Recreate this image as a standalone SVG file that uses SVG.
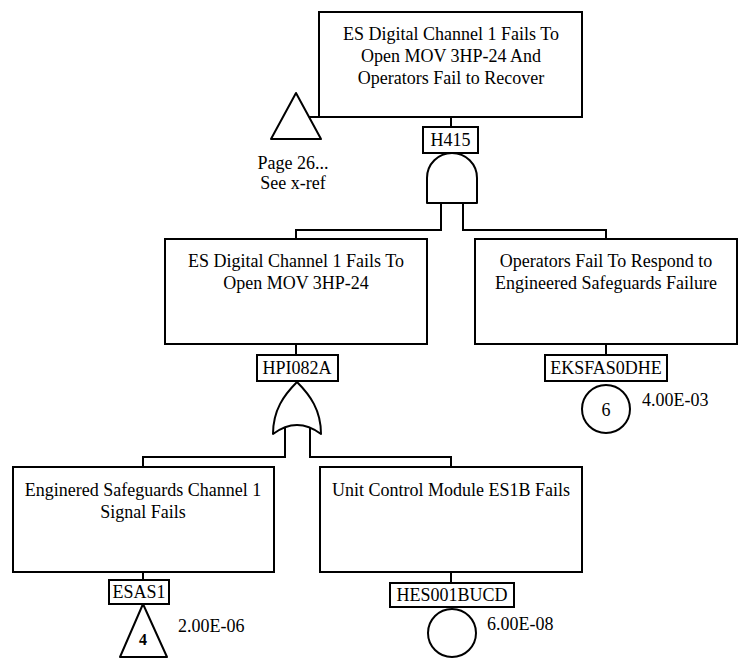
<svg xmlns="http://www.w3.org/2000/svg" width="738" height="663" viewBox="0 0 738 663">
  <style>
    .box { fill: #fff; stroke: #000; stroke-width: 2; }
    .gate { fill: #fff; stroke: #000; stroke-width: 2; stroke-linejoin: round; }
    .wire { fill: none; stroke: #000; stroke-width: 2; }
    text { font-family: "Liberation Serif", "Times New Roman", serif; font-size: 18px; fill: #000; }
    .c { text-anchor: middle; }
    .num { font-weight: bold; font-size: 16px; }
  </style>
  <rect width="738" height="663" fill="#fff"/>

  <!-- connectors -->
  <g id="connectors">
    <line class="wire" x1="451" y1="117" x2="451" y2="127"/>
    <line class="wire" x1="309" y1="117" x2="319" y2="117"/>
    <path class="wire" d="M441,203 V230 H296 V239"/>
    <path class="wire" d="M463,203 V230 H606 V239"/>
    <line class="wire" x1="296" y1="344" x2="296" y2="355"/>
    <line class="wire" x1="606" y1="344" x2="606" y2="355"/>
    <path class="wire" d="M285,428 V457 H143 V467"/>
    <path class="wire" d="M310,428 V457 H451 V467"/>
    <line class="wire" x1="143" y1="572" x2="143" y2="580"/>
    <line class="wire" x1="451" y1="572" x2="451" y2="583"/>
  </g>

  <!-- top event -->
  <g id="top-event">
    <rect class="box" x="319" y="12" width="263" height="105"/>
    <text class="c" x="451" y="40">ES Digital Channel 1 Fails To</text>
    <text class="c" x="451" y="62">Open MOV 3HP-24 And</text>
    <text class="c" x="451" y="84">Operators Fail to Recover</text>
    <rect class="box" x="423" y="127" width="55" height="26"/>
    <text class="c" x="450.5" y="146">H415</text>
    <path class="gate" d="M427,203 V178 A25,25 0 0 1 477,178 V203 Z"/>
  </g>

  <!-- transfer-in triangle -->
  <g id="transfer-page26">
    <polygon class="gate" points="296,93 321,139 271,139"/>
    <text class="c" x="293" y="169">Page 26...</text>
    <text class="c" x="293" y="189">See x-ref</text>
  </g>

  <!-- intermediate event HPI082A -->
  <g id="HPI082A">
    <rect class="box" x="165" y="239" width="262" height="105"/>
    <text class="c" x="296" y="267">ES Digital Channel 1 Fails To</text>
    <text class="c" x="296" y="289">Open MOV 3HP-24</text>
    <rect class="box" x="257" y="355" width="81" height="26"/>
    <text class="c" x="297" y="374">HPI082A</text>
    <path class="gate" d="M273,434 C273,410 284,395 297,382 C310,395 321,410 321,434 Q297,416 273,434 Z"/>
  </g>

  <!-- basic event EKSFAS0DHE -->
  <g id="EKSFAS0DHE">
    <rect class="box" x="475" y="239" width="262" height="105"/>
    <text class="c" x="606" y="267">Operators Fail To Respond to</text>
    <text class="c" x="606" y="289">Engineered Safeguards Failure</text>
    <rect class="box" x="545" y="355" width="122" height="26"/>
    <text class="c" x="606" y="374">EKSFAS0DHE</text>
    <circle class="gate" cx="606" cy="409" r="24"/>
    <text class="c" x="606" y="416">6</text>
    <text x="642" y="406">4.00E-03</text>
  </g>

  <!-- undeveloped transfer ESAS1 -->
  <g id="ESAS1">
    <rect class="box" x="13" y="467" width="261" height="105"/>
    <text class="c" x="143" y="496">Enginered Safeguards Channel 1</text>
    <text class="c" x="143" y="518">Signal Fails</text>
    <rect class="box" x="109" y="580" width="60" height="24"/>
    <text class="c" x="139" y="598">ESAS1</text>
    <polygon class="gate" points="143,604 167,657 120,657"/>
    <text class="c num" x="143" y="645">4</text>
    <text x="178" y="632">2.00E-06</text>
  </g>

  <!-- basic event HES001BUCD -->
  <g id="HES001BUCD">
    <rect class="box" x="320" y="467" width="262" height="105"/>
    <text class="c" x="451" y="496">Unit Control Module ES1B Fails</text>
    <rect class="box" x="390" y="583" width="124" height="24"/>
    <text class="c" x="452" y="601">HES001BUCD</text>
    <circle class="gate" cx="452" cy="633" r="24"/>
    <text x="487" y="630">6.00E-08</text>
  </g>
</svg>
